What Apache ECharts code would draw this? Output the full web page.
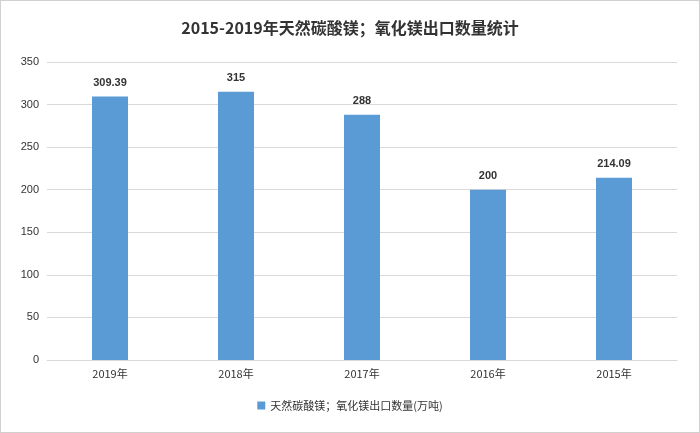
<!DOCTYPE html>
<html><head><meta charset="utf-8">
<script src="https://cdn.jsdelivr.net/npm/echarts@6/dist/echarts.min.js"></script>
<style>html,body{margin:0;padding:0;background:#fff}#c{width:700px;height:433px;box-sizing:border-box;border:1px solid #d0d0d0}</style>
</head><body><div id="c"></div>
<script>
const categories = ['2019年','2018年','2017年','2016年','2015年'];
const values = [309.39, 315, 288, 200, 214.09];
const seriesName = '天然碳酸镁；氧化镁出口数量(万吨)';
const chart = echarts.init(document.getElementById('c'));
chart.setOption({
  animation:false,
  title:{text:'2015-2019年天然碳酸镁；氧化镁出口数量统计',left:'center',top:14,textStyle:{fontSize:16,fontWeight:'bold',color:'#333',fontFamily:'Noto Sans CJK SC'}},
  grid:{left:46,right:22,top:61,bottom:72},
  legend:{bottom:16,itemWidth:8,itemHeight:8,icon:'rect',textStyle:{fontSize:11,color:'#333',fontFamily:'Noto Sans CJK SC'}},
  xAxis:{type:'category',data:categories,axisTick:{show:false},axisLine:{lineStyle:{color:'#d9d9d9'}},axisLabel:{color:'#333',fontSize:11,fontFamily:'Noto Sans CJK SC'}},
  yAxis:{type:'value',min:0,max:350,interval:50,axisLine:{show:false},axisTick:{show:false},splitLine:{lineStyle:{color:'#d9d9d9'}},axisLabel:{color:'#333',fontSize:11}},
  series:[{name:seriesName,type:'bar',data:values,barWidth:36,itemStyle:{color:'#5b9bd5'},
    label:{show:true,position:'top',distance:8,color:'#333',fontWeight:'bold',fontSize:11}}]
});
</script></body></html>
